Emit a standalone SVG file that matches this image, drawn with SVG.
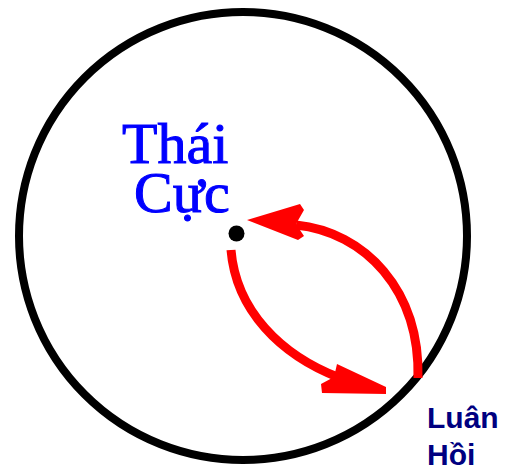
<svg xmlns="http://www.w3.org/2000/svg" width="506" height="468" viewBox="0 0 506 468">
<style>
.ring{fill:none;stroke:#000;stroke-width:8}
.shaft{fill:none;stroke:#ff0000;stroke-width:9;stroke-linecap:butt}
.head{fill:#ff0000}
.t1{font-family:"Liberation Serif","Times New Roman",serif;font-size:58px;fill:#0000ff;stroke:#0000ff;stroke-width:1}
.t2{font-family:"Liberation Sans",Arial,sans-serif;font-weight:bold;font-size:30px;fill:#000080}
</style>
<rect width="506" height="468" fill="#fff"/>
<g id="circle"><circle class="ring" cx="243" cy="236" r="224"/></g>
<g id="center"><circle cx="236.5" cy="233.5" r="8" fill="#000"/></g>
<g id="thai-cuc"><text class="t1" x="122" y="163">Thái</text><text class="t1" x="134" y="212">Cực</text></g>
<g id="luan-hoi"><text class="t2" x="427" y="428">Luân</text><text class="t2" x="427" y="465">Hồi</text></g>
<g id="connectors">
<path class="shaft" d="M 296 225 C 365 232, 420 290, 418 378"/>
<polygon class="head" points="247,220 300,204 304,210 296,224 304,236 298,240"/>
<path class="shaft" d="M 231 250 C 236 310, 280 355, 340 378"/>
<polygon class="head" points="386,387 386,394 322,393 321,384 334,377 337,364"/>
</g>
</svg>
